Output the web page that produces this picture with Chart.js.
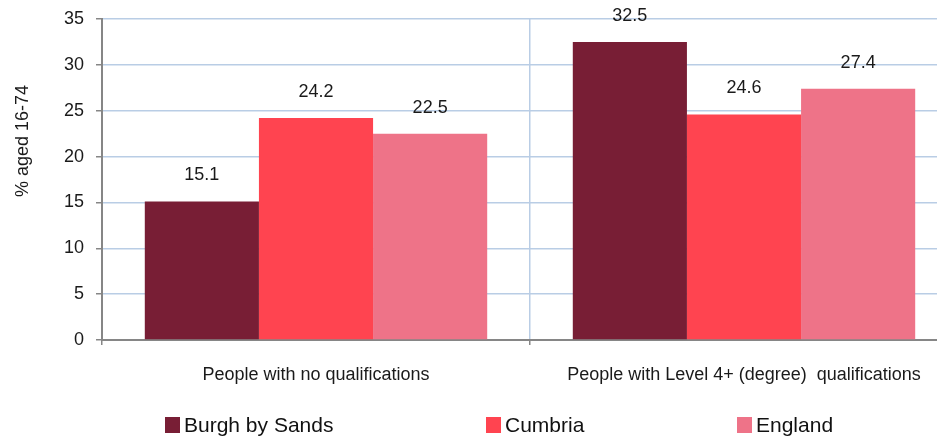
<!DOCTYPE html>
<html>
<head>
<meta charset="utf-8">
<script src="https://cdn.jsdelivr.net/npm/chart.js@4.4.1/dist/chart.umd.min.js"></script>
<style>
    html, body { margin: 0; padding: 0; background: #fff; overflow: hidden; }
    #wrap { width: 958px; height: 436px; }
</style>
</head>
<body>
<div id="wrap"><canvas id="qualChart" width="958" height="436"></canvas></div>
<script>
const categories = ['People with no qualifications', 'People with Level 4+ (degree)  qualifications'];
const seriesNames = ['Burgh by Sands', 'Cumbria', 'England'];
const burghValues = [15.1, 32.5];
const cumbriaValues = [24.2, 24.6];
const englandValues = [22.5, 27.4];
const yTicks = [0, 5, 10, 15, 20, 25, 30, 35];

const colors = ['#781e35', '#ff4450', '#ee7388'];
const FONT = '"Liberation Sans", Arial, sans-serif';

// value labels above each bar
const valueLabels = {
    id: 'valueLabels',
    afterDatasetsDraw(chart) {
        const ctx = chart.ctx;
        ctx.save();
        ctx.font = '18px ' + FONT;
        ctx.fillStyle = '#1a1a1a';
        ctx.textAlign = 'center';
        ctx.textBaseline = 'middle';
        chart.data.datasets.forEach((ds, i) => {
            chart.getDatasetMeta(i).data.forEach((bar, j) => {
                ctx.fillText(ds.data[j].toFixed(1), bar.x, bar.y - 26);
            });
        });
        ctx.restore();
    }
};

// y title and the legend row underneath
const extras = {
    id: 'extras',
    afterDraw(chart) {
        const ctx = chart.ctx;
        ctx.save();
        ctx.font = '18px ' + FONT;
        ctx.fillStyle = '#1a1a1a';
        ctx.translate(23, 141);
        ctx.rotate(-Math.PI / 2);
        ctx.textAlign = 'center';
        ctx.textBaseline = 'middle';
        ctx.fillText('% aged 16-74', 0, 0);
        ctx.restore();

        const legendX = [165, 486, 737];
        ctx.save();
        ctx.font = '21px ' + FONT;
        ctx.textBaseline = 'alphabetic';
        chart.data.datasets.forEach((ds, i) => {
            ctx.fillStyle = ds.backgroundColor;
            ctx.fillRect(legendX[i], 417, 15, 16);
            ctx.fillStyle = '#111';
            ctx.fillText(ds.label, legendX[i] + 19, 432);
        });
        ctx.restore();
    }
};

const ctx = document.getElementById('qualChart').getContext('2d');
new Chart(ctx, {
    type: 'bar',
    data: {
        labels: categories,
        datasets: [
            { label: seriesNames[0], data: burghValues, backgroundColor: colors[0] },
            { label: seriesNames[1], data: cumbriaValues, backgroundColor: colors[1] },
            { label: seriesNames[2], data: englandValues, backgroundColor: colors[2] }
        ]
    },
    options: {
        responsive: false,
        animation: false,
        layout: { padding: { top: 19, right: 0, bottom: 0, left: 0 } },
        datasets: {
            bar: {
                categoryPercentage: 0.8,
                barPercentage: 1.0,
                borderWidth: 0
            }
        },
        plugins: {
            legend: { display: false },
            tooltip: { enabled: false }
        },
        scales: {
            x: {
                offset: true,
                grid: {
                    offset: true,
                    color: '#b9cde5',
                    lineWidth: 1.5,
                    tickColor: '#868686',
                    tickLength: 5
                },
                border: { color: '#868686', width: 2 },
                ticks: {
                    color: '#1a1a1a',
                    font: { family: FONT, size: 18 },
                    padding: 19,
                    maxRotation: 0
                },
                afterFit(scale) { scale.height = 96; }
            },
            y: {
                min: 0,
                max: 35,
                afterBuildTicks(scale) { scale.ticks = yTicks.map(v => ({ value: v })); },
                grid: {
                    color: '#b9cde5',
                    lineWidth: 1.5,
                    tickColor: '#868686',
                    tickLength: 6
                },
                border: { color: '#868686', width: 2 },
                ticks: {
                    color: '#1a1a1a',
                    font: { family: FONT, size: 18 },
                    padding: 12
                },
                afterFit(scale) {
                    scale.width = 102;
                    scale.paddingTop = 0;
                    scale.paddingBottom = 0;
                }
            }
        }
    },
    plugins: [valueLabels, extras]
});
</script>
</body>
</html>
